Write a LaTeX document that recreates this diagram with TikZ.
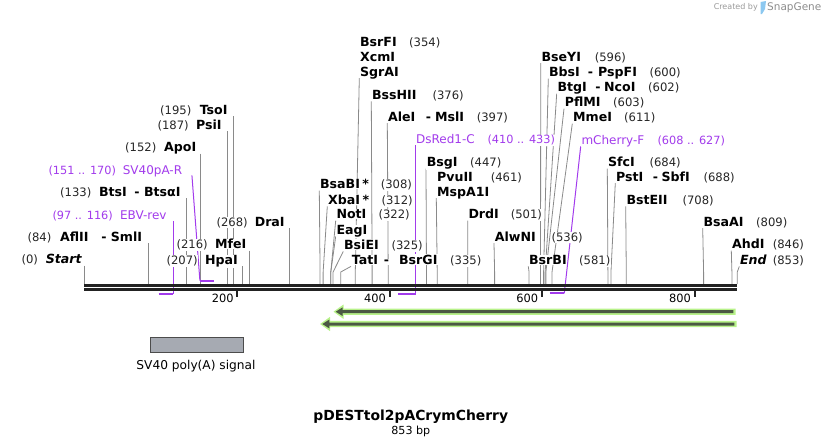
\documentclass[tikz,border=0pt]{standalone}
\usepackage{fontspec}
\setmainfont{DejaVu Sans}
\usepackage{tikz}
\usetikzlibrary{backgrounds}
\definecolor{primer}{HTML}{A23BEC}
\definecolor{leadgray}{HTML}{8A8A8A}
\definecolor{mapline}{HTML}{222222}
\definecolor{glow}{HTML}{B8F28A}
\definecolor{featdark}{HTML}{4B5943}
\definecolor{boxgray}{HTML}{A6AAB2}
\definecolor{logoblue}{HTML}{8CC8F0}

% bp -> x position on the map
\newcommand{\bpx}[1]{84.3+0.7655*#1}

\tikzset{
  enz/.style={font=\fontsize{12.6}{14}\selectfont\bfseries, inner sep=0.6pt, fill=white},
  num/.style={font=\fontsize{11.6}{13}\selectfont, inner sep=0.6pt, text=black!85, fill=white},
  oligo/.style={font=\fontsize{12}{13}\selectfont, inner sep=0.6pt, text=primer, fill=white},
  oligonum/.style={oligo, font=\fontsize{11.3}{13}\selectfont},
  leader/.style={draw=leadgray, line width=0.8pt},
  oligoline/.style={draw=primer, line width=1pt},
  oligobar/.style={draw=primer, line width=2pt},
  maptrack/.style={draw=mapline, line width=2.7pt},
  tick/.style={draw=mapline, line width=2pt},
  ticklbl/.style={font=\fontsize{11.4}{13}\selectfont, inner sep=0pt, anchor=north east}
}

\begin{document}
\begin{tikzpicture}[x=1pt,y=-1pt]
\useasboundingbox (0,0) rectangle (822,447);

% cut sites
\foreach \p in {0,84,133,152,187,195,207,216,268,308,312,322,325,335,354,376,397,447,461,501,536,581,596,600,602,603,611,684,688,708,809,846,853}
  \coordinate (s\p) at ({\bpx{\p}},284);

% the sequence
\draw[maptrack] (84.3,285.3) -- (737.3,285.3);
\draw[maptrack] (84.3,289.3) -- (737.3,289.3);

\draw[tick] (237.3,290.5) -- (237.3,297);
\draw[tick] (389.5,290.5) -- (389.5,297);
\draw[tick] (541.8,290.5) -- (541.8,297);
\draw[tick] (694.5,290.5) -- (694.5,297);
\node[ticklbl] (t200) at (233.8,293.5) {200};
\node[ticklbl] (t400) at (386,293.5) {400};
\node[ticklbl] (t600) at (538.3,293.5) {600};
\node[ticklbl] (t800) at (691,293.5) {800};

% enzymes, left side
\node[enz, anchor=base west] (tsoi) at (199,114.4) {TsoI};
\node[num, anchor=base west] (n195) at (159.3,114.4) {(195)};
\node[enz, anchor=base west] (psii) at (195.3,129.4) {PsiI};
\node[num, anchor=base west] (n187) at (156.7,129.4) {(187)};
\node[enz, anchor=base west] (apoi) at (163.3,151.7) {ApoI};
\node[num, anchor=base west] (n152) at (124.3,151.7) {(152)};
\node[enz, anchor=base west] (btsi) at (98.3,196.1) {BtsI};
\node[enz, anchor=base west] (btsd) at (133.5,196.1) {-};
\node[enz, anchor=base west] (btsai) at (143.3,196.1) {BtsαI};
\node[num, anchor=base west] (n133) at (59.3,196.1) {(133)};
\node[enz, anchor=base west] (afl) at (59.3,241.1) {AflII};
\node[enz, anchor=base west] (afld) at (100.5,241.1) {-};
\node[enz, anchor=base west] (smli) at (110,241.1) {SmlI};
\node[num, anchor=base west] (n84) at (26.7,241.1) {(84)};
\node[enz, anchor=base west, font=\fontsize{12.6}{14}\selectfont\bfseries\itshape] (start) at (45,263.7) {Start};
\node[num, anchor=base west] (n0) at (20.7,263.7) {(0)};
\node[enz, anchor=base west] (drai) at (254,226.1) {DraI};
\node[num, anchor=base west] (n268) at (215.7,226.1) {(268)};
\node[enz, anchor=base west] (mfei) at (214.3,248.7) {MfeI};
\node[num, anchor=base west] (n216) at (175.7,248.7) {(216)};
\node[enz, anchor=base west] (hpai) at (204.3,264.4) {HpaI};
\node[num, anchor=base west] (n207) at (165.7,264.4) {(207)};

% enzymes, middle
\node[enz, anchor=base west] (bsabi) at (319.3,188.7) {BsaBI\hspace{2.5pt}*};
\node[num, anchor=base west] (n308) at (380,188.7) {(308)};
\node[enz, anchor=base west] (xbai) at (327.3,204.4) {XbaI\hspace{2.5pt}*};
\node[num, anchor=base west] (n312) at (380.7,204.4) {(312)};
\node[enz, anchor=base west] (noti) at (335.7,218.7) {NotI};
\node[num, anchor=base west] (n322) at (377.7,218.7) {(322)};
\node[enz, anchor=base west] (eagi) at (335.7,234.4) {EagI};
\node[enz, anchor=base west] (bsiei) at (343.3,249.4) {BsiEI};
\node[num, anchor=base west] (n325) at (390.7,249.4) {(325)};
\node[enz, anchor=base west] (tati) at (351,264.4) {TatI};
\node[enz, anchor=base west] (tatd) at (383,264.4) {-};
\node[enz, anchor=base west] (bsrgi) at (398.3,264.4) {BsrGI};
\node[num, anchor=base west] (n335) at (449.3,264.4) {(335)};
\node[enz, anchor=base west] (bsrfi) at (359.3,46.7) {BsrFI};
\node[num, anchor=base west] (n354) at (408.3,46.7) {(354)};
\node[enz, anchor=base west] (xcmi) at (359.3,61.1) {XcmI};
\node[enz, anchor=base west] (sgrai) at (359.3,76.1) {SgrAI};
\node[enz, anchor=base west] (bsshii) at (371.3,99.4) {BssHII};
\node[num, anchor=base west] (n376) at (431.7,99.4) {(376)};
\node[enz, anchor=base west] (alei) at (387.3,121.1) {AleI};
\node[enz, anchor=base west] (aled) at (425,121.1) {-};
\node[enz, anchor=base west] (msli) at (434.3,121.1) {MslI};
\node[num, anchor=base west] (n397) at (476,121.1) {(397)};
\node[enz, anchor=base west] (bsgi) at (426,166.7) {BsgI};
\node[num, anchor=base west] (n447) at (469.3,166.7) {(447)};
\node[enz, anchor=base west] (pvuii) at (436.3,181.1) {PvuII};
\node[num, anchor=base west] (n461) at (490,181.1) {(461)};
\node[enz, anchor=base west] (mspa1i) at (436.3,196.1) {MspA1I};
\node[enz, anchor=base west] (drdi) at (467.7,218.7) {DrdI};
\node[num, anchor=base west] (n501) at (510,218.7) {(501)};
\node[enz, anchor=base west] (alwni) at (494,241.1) {AlwNI};
\node[num, anchor=base west] (n536) at (550.7,241.1) {(536)};
\node[enz, anchor=base west] (bsrbi) at (528.3,264.4) {BsrBI};
\node[num, anchor=base west] (n581) at (578.3,264.4) {(581)};

% enzymes, right side
\node[enz, anchor=base west] (bseyi) at (540.7,61.1) {BseYI};
\node[num, anchor=base west] (n596) at (594,61.1) {(596)};
\node[enz, anchor=base west] (bbsi) at (548.3,76.7) {BbsI};
\node[enz, anchor=base west] (bbsd) at (587,76.7) {-};
\node[enz, anchor=base west] (pspfi) at (597.3,76.7) {PspFI};
\node[num, anchor=base west] (n600) at (648.7,76.7) {(600)};
\node[enz, anchor=base west] (btgi) at (556.7,91.7) {BtgI};
\node[enz, anchor=base west] (btgd) at (594.5,91.7) {-};
\node[enz, anchor=base west] (ncoi) at (603.3,91.7) {NcoI};
\node[num, anchor=base west] (n602) at (647.3,91.7) {(602)};
\node[enz, anchor=base west] (pflmi) at (564,106.7) {PflMI};
\node[num, anchor=base west] (n603) at (612.3,106.7) {(603)};
\node[enz, anchor=base west] (mmei) at (572.3,121.7) {MmeI};
\node[num, anchor=base west] (n611) at (623.3,121.7) {(611)};
\node[enz, anchor=base west] (sfci) at (607.3,166.7) {SfcI};
\node[num, anchor=base west] (n684) at (648.7,166.7) {(684)};
\node[enz, anchor=base west] (psti) at (615.3,181.1) {PstI};
\node[enz, anchor=base west] (pstd) at (652,181.1) {-};
\node[enz, anchor=base west] (sbfi) at (660.7,181.1) {SbfI};
\node[num, anchor=base west] (n688) at (702.7,181.1) {(688)};
\node[enz, anchor=base west] (bsteii) at (625.7,204.4) {BstEII};
\node[num, anchor=base west] (n708) at (681.7,204.4) {(708)};
\node[enz, anchor=base west] (bsaai) at (702.7,226.1) {BsaAI};
\node[num, anchor=base west] (n809) at (755.3,226.1) {(809)};
\node[enz, anchor=base west] (ahdi) at (731.3,248.7) {AhdI};
\node[num, anchor=base west] (n846) at (772,248.7) {(846)};
\node[enz, anchor=base west, font=\fontsize{12.6}{14}\selectfont\bfseries\itshape] (end) at (739.3,264.4) {End};
\node[num, anchor=base west] (n853) at (772,264.4) {(853)};

% primers
\node[oligo, anchor=base west] (sv40r) at (122,174.4) {SV40pA-R};
\node[oligonum, anchor=base west] (sv40rn) at (47.7,174.4) {(151 .. 170)};
\node[oligo, anchor=base west] (ebvrev) at (119.3,219.4) {EBV-rev};
\node[oligonum, anchor=base west] (ebvrevn) at (51.7,219.4) {(97 .. 116)};
\node[oligo, anchor=base west] (dsred) at (415.3,143.7) {DsRed1-C};
\node[oligonum, anchor=base west] (dsredn) at (486.7,143.7) {(410 .. 433)};
\node[oligo, anchor=base west] (mcherry) at (580.7,144.4) {mCherry-F};
\node[oligonum, anchor=base west] (mcherryn) at (656.7,144.4) {(608 .. 627)};

\coordinate (v151) at (199.9,280.7);
\coordinate (v170) at (214.4,280.7);
\coordinate (e97) at (158.6,294);
\coordinate (e116) at (173.1,294);
\coordinate (d410) at (398.2,293.5);
\coordinate (d433) at (415.8,293.5);
\coordinate (m608) at (549.7,293.3);
\coordinate (m627) at (564.3,293.3);

\draw[oligobar] (v151) -- (v170);
\draw[oligobar] (e97) -- (e116);
\draw[oligobar] (d410) -- (d433);
\draw[oligobar] (m608) -- (m627);

\begin{scope}[on background layer]
  % left leaders
  \draw[leader] (s195 |- tsoi.base) ++(0,2) -- ([yshift=12pt]s195) -- (s195);
  \draw[leader] (s187 |- psii.base) ++(0,2) -- ([yshift=12pt]s187) -- (s187);
  \draw[leader] (s152 |- apoi.base) ++(0,2) -- ([yshift=12pt]s152) -- (s152);
  \draw[leader] (s133 |- btsai.base) ++(0,2) -- ([yshift=12pt]s133) -- (s133);
  \draw[leader] (s84 |- smli.base) ++(0,2) -- ([yshift=12pt]s84) -- (s84);
  \draw[leader] (s0 |- start.base) ++(0,2) -- ([yshift=12pt]s0) -- (s0);
  \draw[leader] (s268 |- drai.base) ++(0,2) -- ([yshift=12pt]s268) -- (s268);
  \draw[leader] (s216 |- mfei.base) ++(0,2) -- ([yshift=12pt]s216) -- (s216);
  \draw[leader] (s207 |- hpai.base) ++(0,2) -- ([yshift=12pt]s207) -- (s207);
  % right leaders
  \draw[leader] ([yshift=-2pt]sgrai.base west) -- ([yshift=12pt]s354) -- (s354);
  \draw[leader] ([yshift=-2pt]bsshii.base west) -- ([yshift=12pt]s376) -- (s376);
  \draw[leader] ([yshift=-2pt]alei.base west) -- ([yshift=12pt]s397) -- (s397);
  \draw[leader] ([yshift=-2pt]bsgi.base west) -- ([yshift=12pt]s447) -- (s447);
  \draw[leader] ([yshift=-2pt]mspa1i.base west) -- ([yshift=12pt]s461) -- (s461);
  \draw[leader] ([yshift=-2pt]drdi.base west) -- ([yshift=12pt]s501) -- (s501);
  \draw[leader] ([yshift=-2pt]alwni.base west) -- ([yshift=12pt]s536) -- (s536);
  \draw[leader] ([yshift=-2pt]bsrbi.base west) -- ([yshift=12pt]s581) -- (s581);
  \draw[leader] ([yshift=-2pt]bseyi.base west) -- ([yshift=12pt]s596) -- (s596);
  \draw[leader] ([yshift=-2pt]bbsi.base west) -- ([yshift=12pt]s600) -- (s600);
  \draw[leader] ([yshift=-2pt]btgi.base west) -- ([yshift=12pt]s602) -- (s602);
  \draw[leader] ([yshift=-2pt]pflmi.base west) -- ([yshift=12pt]s603) -- (s603);
  \draw[leader] ([yshift=-2pt]mmei.base west) -- ([yshift=12pt]s611) -- (s611);
  \draw[leader] ([yshift=-2pt]sfci.base west) -- ([yshift=12pt]s684) -- (s684);
  \draw[leader] ([yshift=-2pt]psti.base west) -- ([yshift=12pt]s688) -- (s688);
  \draw[leader] ([yshift=-2pt]bsteii.base west) -- ([yshift=12pt]s708) -- (s708);
  \draw[leader] ([yshift=-2pt]bsaai.base west) -- ([yshift=12pt]s809) -- (s809);
  \draw[leader] ([yshift=-2pt]ahdi.base west) -- ([yshift=12pt]s846) -- (s846);
  \draw[leader] ([yshift=-2pt]end.base west) -- ([yshift=12pt]s853) -- (s853);
  \draw[leader] ([yshift=-2pt]bsabi.base west) -- ([yshift=12pt]s308) -- (s308);
  \draw[leader] ([yshift=-2pt]xbai.base west) -- ([yshift=12pt]s312) -- (s312);
  \draw[leader] ([yshift=-2pt]noti.base west) -- ([yshift=12pt]s322) -- (s322);
  \draw[leader] ([yshift=-2pt]eagi.base west) -- ([yshift=12pt]s322) -- (s322);
  \draw[leader] ([yshift=-2pt]bsiei.base west) -- ([yshift=12pt]s325) -- (s325);
  \draw[leader] ([yshift=-2pt]tati.base west) -- ([yshift=12pt]s335) -- (s335);
  % primer leaders
  \draw[oligoline] ([xshift=9pt,yshift=-1pt]sv40r.base east) -- (v151);
  \draw[oligoline] (e116 |- ebvrev.base) ++(0,1.5) -- (e116);
  \draw[oligoline] (d433 |- dsred.base) ++(0,1.5) -- (d433);
  \draw[oligoline] ([yshift=-2pt]mcherry.base west) -- (m627);
\end{scope}

% features
\fill[glow] (333.5,311.7) -- (343.5,304.5) -- (343.5,308.5) -- (735.5,308.5) -- (735.5,314.9) -- (343.5,314.9) -- (343.5,318.9) -- cycle;
\fill[featdark] (335.7,311.7) -- (342.7,307.3) -- (342.7,310.2) -- (733.3,310.2) -- (733.3,313.2) -- (342.7,313.2) -- (342.7,316.1) -- cycle;
\fill[glow] (320.1,324) -- (330.1,316.8) -- (330.1,320.8) -- (736.5,320.8) -- (736.5,327.2) -- (330.1,327.2) -- (330.1,331.2) -- cycle;
\fill[featdark] (322.3,324) -- (329.3,319.6) -- (329.3,322.5) -- (734.3,322.5) -- (734.3,325.5) -- (329.3,325.5) -- (329.3,328.4) -- cycle;

\node[draw=black!70, fill=boxgray, minimum width=93.4pt, minimum height=15.6pt, inner sep=0pt] (polya) at (196.7,344.5) {};
\node[font=\fontsize{12.2}{14}\selectfont] (polyatxt) at (196,366) {SV40 poly(A) signal};

% title
\node[font=\fontsize{13.9}{16}\selectfont\bfseries] (title) at (410.8,416.7) {pDESTtol2pACrymCherry};
\node[font=\fontsize{11.1}{13}\selectfont] (bp) at (410.8,431.5) {853 bp};

\node[font=\fontsize{8}{9}\selectfont, text=black!40, anchor=east, inner sep=0pt] (created) at (758,7.5) {Created by};
\fill[logoblue] (760.5,2) -- (766,1) -- (765,9) -- (762,14) -- (760.5,14) -- cycle;
\node[font=\fontsize{10.5}{12}\selectfont, text=black!45, anchor=west, inner sep=0pt] (snapgene) at (767,7.5) {SnapGene};
\end{tikzpicture}
\end{document}
